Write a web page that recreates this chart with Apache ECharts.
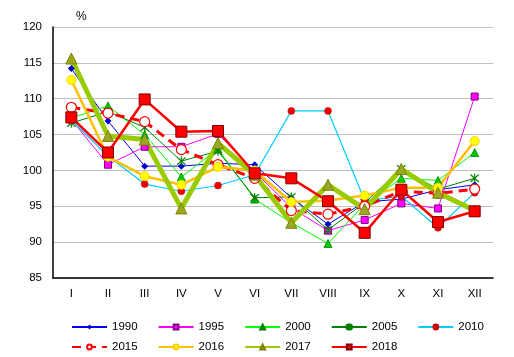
<!DOCTYPE html>
<html><head><meta charset="utf-8">
<script src="https://cdn.jsdelivr.net/npm/echarts@6/dist/echarts.min.js"></script>
<style>html,body{margin:0;padding:0;background:#fff}#c{width:514px;height:357px}</style>
</head><body><div id="c"></div>
<script>
const months = ['I','II','III','IV','V','VI','VII','VIII','IX','X','XI','XII'];
const yTicks = [85, 90, 95, 100, 105, 110, 115, 120];
const s1990 = [114.2, 106.9, 100.6, 100.6, 101.0, 100.8, 96.2, 92.5, 95.6, 96.0, 97.3, 98.0];
const s1995 = [107.1, 100.8, 103.3, 103.3, 105.1, 99.8, 94.8, 91.6, 93.1, 95.4, 94.7, 110.3];
const s2000 = [107.3, 109.0, 105.0, 99.1, 103.0, 96.0, 92.7, 89.8, 95.3, 98.9, 98.6, 102.5];
const s2005 = [106.6, 108.2, 106.0, 101.3, 102.7, 96.2, 96.3, 91.7, 95.5, 100.2, 97.4, 98.9];
const s2010 = [107.0, 102.0, 98.1, 97.1, 97.9, 99.4, 108.3, 108.3, 95.8, 96.4, 92.0, 96.9];
const s2015 = [108.8, 108.0, 106.8, 102.9, 100.8, 98.9, 94.4, 93.9, 95.0, 97.1, 96.8, 97.4];
const s2016 = [112.6, 101.9, 99.2, 98.0, 100.5, 100.0, 95.6, 95.8, 96.5, 97.6, 97.6, 104.1];
const s2017 = [115.6, 104.8, 104.3, 94.7, 103.8, 99.4, 92.7, 98.0, 94.6, 100.2, 96.9, 94.4];
const s2018 = [107.4, 102.5, 109.9, 105.4, 105.5, 99.6, 98.9, 95.7, 91.3, 97.3, 92.8, 94.3];

const starPath = 'path://M4.5,0h1v10h-1z M0.6,1.4L1.4,0.6L9.4,8.6L8.6,9.4z M8.6,0.6L9.4,1.4L1.4,9.4L0.6,8.6z';
const font = 'Liberation Sans, Arial, sans-serif';

function mk(name, data, o) {
  return Object.assign({
    name: name, type: 'line', data: data, animation: false,
    symbolSize: 7, showSymbol: true,
    emphasis: {disabled: true}
  }, o);
}

const series = [
  mk('1990', s1990, {symbol: 'diamond', symbolSize: 7, lineStyle: {color: '#0000ff', width: 1}, itemStyle: {color: '#0000cc', borderColor: '#0000cc', borderWidth: 0}}),
  mk('1995', s1995, {symbol: 'rect', symbolSize: 7, lineStyle: {color: '#ff00ff', width: 1}, itemStyle: {color: '#ff00ff', borderColor: '#800080', borderWidth: 1}}),
  mk('2000', s2000, {symbol: 'triangle', symbolSize: 8, lineStyle: {color: '#00ff00', width: 1}, itemStyle: {color: '#00cc00', borderColor: '#008000', borderWidth: 0.8}}),
  mk('2005', s2005, {symbol: starPath, symbolSize: 9, lineStyle: {color: '#008000', width: 1}, itemStyle: {color: '#008000', borderColor: '#008000', borderWidth: 0.2}}),
  mk('2010', s2010, {symbol: 'circle', symbolSize: 7, lineStyle: {color: '#00ccff', width: 1.2}, itemStyle: {color: '#ee0000', borderColor: '#cc0000', borderWidth: 0.5}}),
  mk('2015', s2015, {symbol: 'circle', symbolSize: 10, lineStyle: {color: '#ff0000', width: 3, type: [9, 6]}, itemStyle: {color: '#ffffff', borderColor: '#ff0000', borderWidth: 1.2}}),
  mk('2016', s2016, {symbol: 'circle', symbolSize: 9, lineStyle: {color: '#ffc000', width: 2.5}, itemStyle: {color: '#ffff00', borderColor: '#ffcc00', borderWidth: 1}}),
  mk('2017', s2017, {symbol: 'triangle', symbolSize: 11, lineStyle: {color: '#99cc00', width: 5}, itemStyle: {color: '#99aa22', borderColor: '#808000', borderWidth: 1}}),
  mk('2018', s2018, {symbol: 'rect', symbolSize: 11, lineStyle: {color: '#ff0000', width: 2.5}, itemStyle: {color: '#ff0000', borderColor: '#800000', borderWidth: 1}})
];

const legendCommon = {
  itemWidth: 35, itemHeight: 6, itemGap: 20, orient: 'horizontal',
  textStyle: {fontFamily: font, fontSize: 11.5, color: '#000'},
  selectedMode: false
};

const chart = echarts.init(document.getElementById('c'), null, {renderer: 'canvas'});
chart.setOption({
  animation: false,
  backgroundColor: '#fff',
  title: {text: '%', left: 71, top: 6, textStyle: {fontFamily: font, fontSize: 12, fontWeight: 'normal', color: '#000'}},
  grid: {left: 53, right: 21, top: 27, bottom: 79, containLabel: false},
  legend: [
    Object.assign({data: ['1990', '1995', '2000', '2005', '2010'], left: 66, top: 316}, legendCommon),
    Object.assign({data: ['2015', '2016', '2017', '2018'], left: 66, top: 336}, legendCommon)
  ],
  xAxis: {
    type: 'category', data: months, boundaryGap: true,
    axisLine: {show: true, lineStyle: {color: '#000', width: 1.5}},
    axisTick: {show: false},
    axisLabel: {fontFamily: font, fontSize: 11.5, color: '#000', margin: 10},
    splitLine: {show: false}
  },
  yAxis: {
    type: 'value', min: yTicks[0], max: yTicks[yTicks.length - 1], interval: 5,
    axisLine: {show: true, lineStyle: {color: '#000', width: 1.5}},
    axisTick: {show: false},
    axisLabel: {fontFamily: font, fontSize: 11.5, color: '#000', margin: 11},
    splitLine: {show: true, lineStyle: {color: '#c0c0c0', width: 1}}
  },
  series: series
});
</script></body></html>
